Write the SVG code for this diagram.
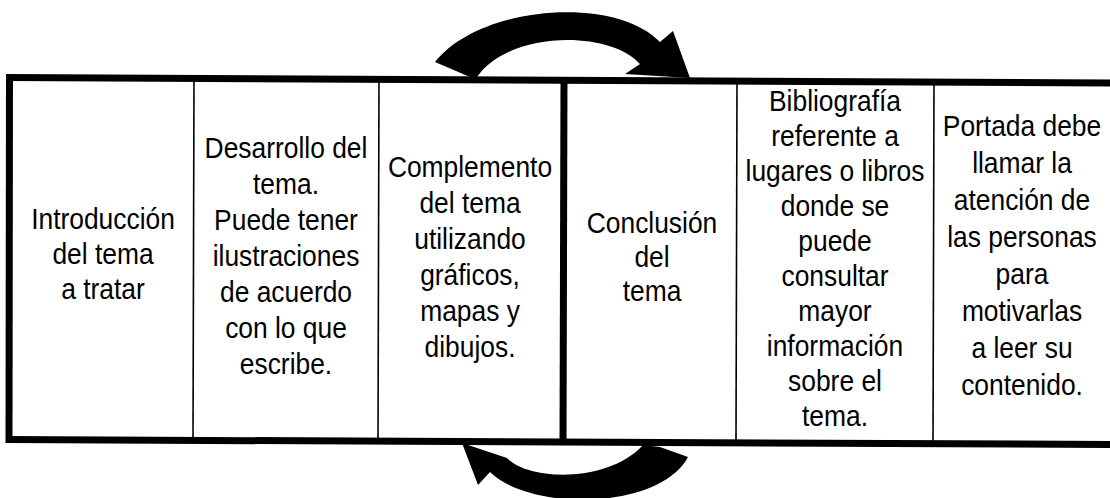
<svg xmlns="http://www.w3.org/2000/svg" width="1110" height="498" viewBox="0 0 1110 498">
<style>
.t{font-family:"Liberation Sans",Arial,sans-serif;font-size:29px;fill:#000;text-anchor:middle}
.thin{stroke:#000;stroke-width:1.6;fill:none}
.thick{stroke:#000;stroke-width:7;fill:none}
.arrow{fill:#000;stroke:none}
</style>
<rect width="1110" height="498" fill="#fff"/>
<g id="frame">
<line class="thick" x1="7" y1="77.5" x2="1110" y2="83"/>
<line class="thick" x1="7" y1="439.5" x2="1110" y2="444.5"/>
<line class="thick" x1="9.5" y1="74" x2="9" y2="443"/>
<line class="thick" x1="564" y1="78" x2="563" y2="443"/>
<line class="thin" x1="194" y1="78" x2="193" y2="441"/>
<line class="thin" x1="379" y1="78" x2="378" y2="442"/>
<line class="thin" x1="737" y1="80" x2="736" y2="443"/>
<line class="thin" x1="934" y1="81" x2="933" y2="444"/>
</g>
<g id="connectors">
<path class="arrow" d="M435,62 C480,5 615,-5 660,42 L673,31 L690,78 L625,74 L640,64 C610,30 510,30 477,77 L470,77 Z"/>
<path class="arrow" d="M462,443 L507,458 C530,482 610,482 643,445 L660,447 L688,457 C660,510 530,512 490,472 L478,485 Z"/>
</g>
<g id="n1" transform="translate(103,0) scale(0.91,1)">
<text class="t" x="0" y="229">Introducción</text>
<text class="t" x="0" y="264">del tema</text>
<text class="t" x="0" y="299">a tratar</text>
</g>
<g id="n2" transform="translate(286,0) scale(0.91,1)">
<text class="t" x="0" y="158">Desarrollo del</text>
<text class="t" x="0" y="194">tema.</text>
<text class="t" x="0" y="230">Puede tener</text>
<text class="t" x="0" y="266">ilustraciones</text>
<text class="t" x="0" y="302">de acuerdo</text>
<text class="t" x="0" y="338">con lo que</text>
<text class="t" x="0" y="374">escribe.</text>
</g>
<g id="n3" transform="translate(470,0) scale(0.91,1)">
<text class="t" x="0" y="177">Complemento</text>
<text class="t" x="0" y="213">del tema</text>
<text class="t" x="0" y="249">utilizando</text>
<text class="t" x="0" y="285">gráficos,</text>
<text class="t" x="0" y="321">mapas y</text>
<text class="t" x="0" y="357">dibujos.</text>
</g>
<g id="n4" transform="translate(652,0) scale(0.91,1)">
<text class="t" x="0" y="233">Conclusión</text>
<text class="t" x="0" y="267">del</text>
<text class="t" x="0" y="301">tema</text>
</g>
<g id="n5" transform="translate(835,0) scale(0.91,1)">
<text class="t" x="0" y="111">Bibliografía</text>
<text class="t" x="0" y="146">referente a</text>
<text class="t" x="0" y="181">lugares o libros</text>
<text class="t" x="0" y="216">donde se</text>
<text class="t" x="0" y="251">puede</text>
<text class="t" x="0" y="286">consultar</text>
<text class="t" x="0" y="321">mayor</text>
<text class="t" x="0" y="356">información</text>
<text class="t" x="0" y="391">sobre el</text>
<text class="t" x="0" y="426">tema.</text>
</g>
<g id="n6" transform="translate(1022,0) scale(0.91,1)">
<text class="t" x="0" y="136">Portada debe</text>
<text class="t" x="0" y="173">llamar la</text>
<text class="t" x="0" y="210">atención de</text>
<text class="t" x="0" y="247">las personas</text>
<text class="t" x="0" y="284">para</text>
<text class="t" x="0" y="321">motivarlas</text>
<text class="t" x="0" y="358">a leer su</text>
<text class="t" x="0" y="395">contenido.</text>
</g>
</svg>
